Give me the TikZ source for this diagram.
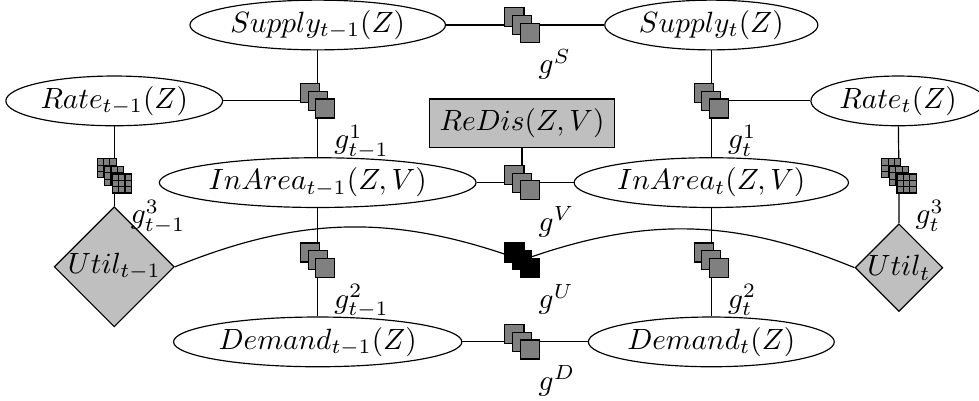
\documentclass[tikz,border=0pt]{standalone}
\usetikzlibrary{shapes.geometric,calc}
\tikzset{
    varnode/.style={ellipse,draw,inner sep=1pt},
    utilnode/.style={diamond,draw,fill=black!25,inner sep=0pt},
    obsnode/.style={rectangle,draw,fill=black!25},
    factorbox/.style={rectangle,draw,fill=black!50,inner sep=0pt,minimum size=6.5pt},
    factorgrid/.style={factorbox,path picture={
        \foreach \k in {1,2}{
            \draw ([xshift=\k*2.17pt]path picture bounding box.south west) -- ([xshift=\k*2.17pt]path picture bounding box.north west);
            \draw ([yshift=\k*2.17pt]path picture bounding box.south west) -- ([yshift=\k*2.17pt]path picture bounding box.south east);
        }}},
    factorblack/.style={factorbox,fill=black},
    factorlabel/.style={anchor=north west,inner sep=0pt}
}
% three stacked squares at a coordinate, with its label
\newcommand{\factor}[3][factorbox]{%
    \node[#1,xshift=-2.6pt,yshift=2.6pt] (#2-a) at (#2) {};
    \node[#1] (#2-b) at (#2) {};
    \node[#1,xshift=2.6pt,yshift=-2.6pt] (#2-c) at (#2) {};
    \node[factorlabel] (#2-lab) at ($(#2)+(5.5pt,-8pt)$) {$#3$};
}
\begin{document}
\begin{tikzpicture}
    \useasboundingbox (0,0) rectangle (11.74,4.80);
    % factor positions
    \coordinate (fS) at (6.26,4.50);
    \coordinate (f1a) at (3.81,3.59);
    \coordinate (f1b) at (8.53,3.59);
    \coordinate (fV) at (6.26,2.61);
    \coordinate (f3a) at (1.37,2.69);
    \coordinate (f3b) at (10.78,2.69);
    \coordinate (f2a) at (3.81,1.68);
    \coordinate (fU) at (6.26,1.68);
    \coordinate (f2b) at (8.53,1.68);
    \coordinate (fD) at (6.26,0.70);
    % variables
    \node[varnode] (supA) at (3.81,4.50) {$Supply_{t-1}(Z)$};
    \node[varnode] (supB) at (8.53,4.50) {$Supply_t(Z)$};
    \node[varnode] (rateA) at (1.37,3.59) {$Rate_{t-1}(Z)$};
    \node[varnode] (rateB) at (10.77,3.59) {$Rate_t(Z)$};
    \node[obsnode] (redis) at (6.26,3.32) {$ReDis(Z,V)$};
    \node[varnode] (inA) at (3.81,2.61) {$InArea_{t-1}(Z,V)$};
    \node[varnode] (inB) at (8.53,2.61) {$InArea_t(Z,V)$};
    \node[utilnode] (utilA) at (1.37,1.60) {$Util_{t-1}$};
    \node[utilnode] (utilB) at (10.78,1.59) {$Util_t$};
    \node[varnode] (demA) at (3.81,0.70) {$Demand_{t-1}(Z)$};
    \node[varnode] (demB) at (8.53,0.70) {$Demand_t(Z)$};
    % edges
    \draw (supA) -- (fS) -- (supB);
    \draw (supA) -- (f1a) -- (inA);
    \draw (rateA) -- (f1a);
    \draw (supB) -- (f1b) -- (inB);
    \draw (rateB) -- (f1b);
    \draw (redis) -- (fV);
    \draw (inA) -- (fV) -- (inB);
    \draw (rateA) -- (f3a) -- (utilA);
    \draw (rateB) -- (f3b) -- (utilB);
    \draw (inA) -- (f2a) -- (demA);
    \draw (inB) -- (f2b) -- (demB);
    \draw (demA) -- (fD) -- (demB);
    \draw (utilA.east) to[bend left=21] (fU) to[bend left=21] (utilB.west);
    % factors
    \factor{fS}{g^S}
    \factor{f1a}{g^1_{t-1}}
    \factor{f1b}{g^1_t}
    \factor{fV}{g^V}
    \factor[factorgrid]{f3a}{g^3_{t-1}}
    \factor[factorgrid]{f3b}{g^3_t}
    \factor{f2a}{g^2_{t-1}}
    \factor[factorblack]{fU}{g^U}
    \factor{f2b}{g^2_t}
    \factor{fD}{g^D}
\end{tikzpicture}
\end{document}
